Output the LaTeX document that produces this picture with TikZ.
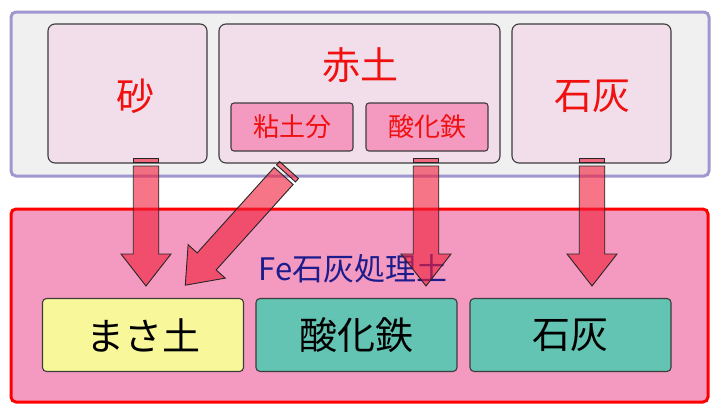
\documentclass[tikz,border=0pt]{standalone}
\usepackage{fontspec}
\setmainfont{Noto Sans CJK JP}
\definecolor{outergray}{HTML}{F0F0F0}
\definecolor{lavender}{HTML}{9F97CF}
\definecolor{lightpink}{HTML}{F2DEEA}
\definecolor{midpink}{HTML}{F49AC0}
\definecolor{boxborder}{HTML}{3C3C3C}
\definecolor{labelred}{HTML}{F01010}
\definecolor{navy}{HTML}{1C1C8C}
\definecolor{soilyellow}{HTML}{F8F89A}
\definecolor{tealbox}{HTML}{64C4B4}
\definecolor{arrowred}{HTML}{F0203C}
\tikzset{
  outerbox/.style={line width=3pt, rounded corners=5pt},
  itembox/.style={draw=boxborder, line width=1.1pt, rounded corners=7pt},
  subbox/.style={draw=boxborder, line width=1.1pt, rounded corners=3pt, fill=midpink},
  bigred/.style={text=labelred, font=\fontsize{38}{40}\selectfont},
  smallred/.style={text=labelred, font=\fontsize{26}{28}\selectfont},
  bigblack/.style={text=black, font=\fontsize{38}{40}\selectfont},
  arrowstyle/.style={draw=black!85, line width=0.9pt, fill=arrowred, fill opacity=0.62, line join=miter},
}
\newcommand{\blockarrow}[4]{% x, y of start, rotation, length
  \begin{scope}[shift={(#1,#2)}, rotate=#3]
    \draw[arrowstyle] (-12.75,0) rectangle (12.75,4.5);
    \draw[arrowstyle] (-12.75,8) -- (-12.75,#4-32) -- (-25,#4-32) -- (0,#4) -- (25,#4-32) -- (12.75,#4-32) -- (12.75,8) -- cycle;
  \end{scope}}
\begin{document}
\begin{tikzpicture}[x=1pt, y=-1pt]
\useasboundingbox (0,0) rectangle (720,415);
% top group
\draw[outerbox, draw=lavender, fill=outergray] (11,12) rectangle (709,176);
\node[itembox, fill=lightpink, minimum width=159pt, minimum height=139pt] (sandbox) at (127.5,93.5) {};
\node[itembox, fill=lightpink, minimum width=281pt, minimum height=139pt] (redsoil) at (359.5,93.5) {};
\node[itembox, fill=lightpink, minimum width=159pt, minimum height=139pt] (limebox) at (591.5,93.5) {};
\node[bigred] (sandlbl) at (135,96) {砂};
\node[bigred] (redlbl) at (360,65) {赤土};
\node[bigred] (limelbl) at (592,96) {石灰};
\node[subbox, minimum width=122pt, minimum height=48pt] (clay) at (292,127) {};
\node[smallred] at (clay) {粘土分};
\node[subbox, minimum width=122pt, minimum height=48pt] (ironox) at (427,127) {};
\node[smallred] at (ironox) {酸化鉄};
% bottom group
\draw[outerbox, draw=red, fill=midpink] (11,209) rectangle (708,402);
\node[text=navy, font=\fontsize{31}{33}\selectfont] (fetitle) at (353,269) {Fe石灰処理土};
\node[itembox, rounded corners=4pt, fill=soilyellow, minimum width=201pt, minimum height=73pt] (masa) at (143,335) {};
\node[bigblack] at (masa) {まさ土};
\node[itembox, rounded corners=4pt, fill=tealbox, minimum width=201pt, minimum height=73pt] (ironb) at (356.5,335) {};
\node[bigblack] at (ironb) {酸化鉄};
\node[itembox, rounded corners=4pt, fill=tealbox, minimum width=201pt, minimum height=73pt] (limeb) at (570.5,335) {};
\node[bigblack] at (limeb) {石灰};
% arrows
\blockarrow{146}{158}{0}{128}
\blockarrow{426}{158}{0}{128}
\blockarrow{592}{158}{0}{128}
\blockarrow{289}{170}{-42}{155}
\end{tikzpicture}
\end{document}
